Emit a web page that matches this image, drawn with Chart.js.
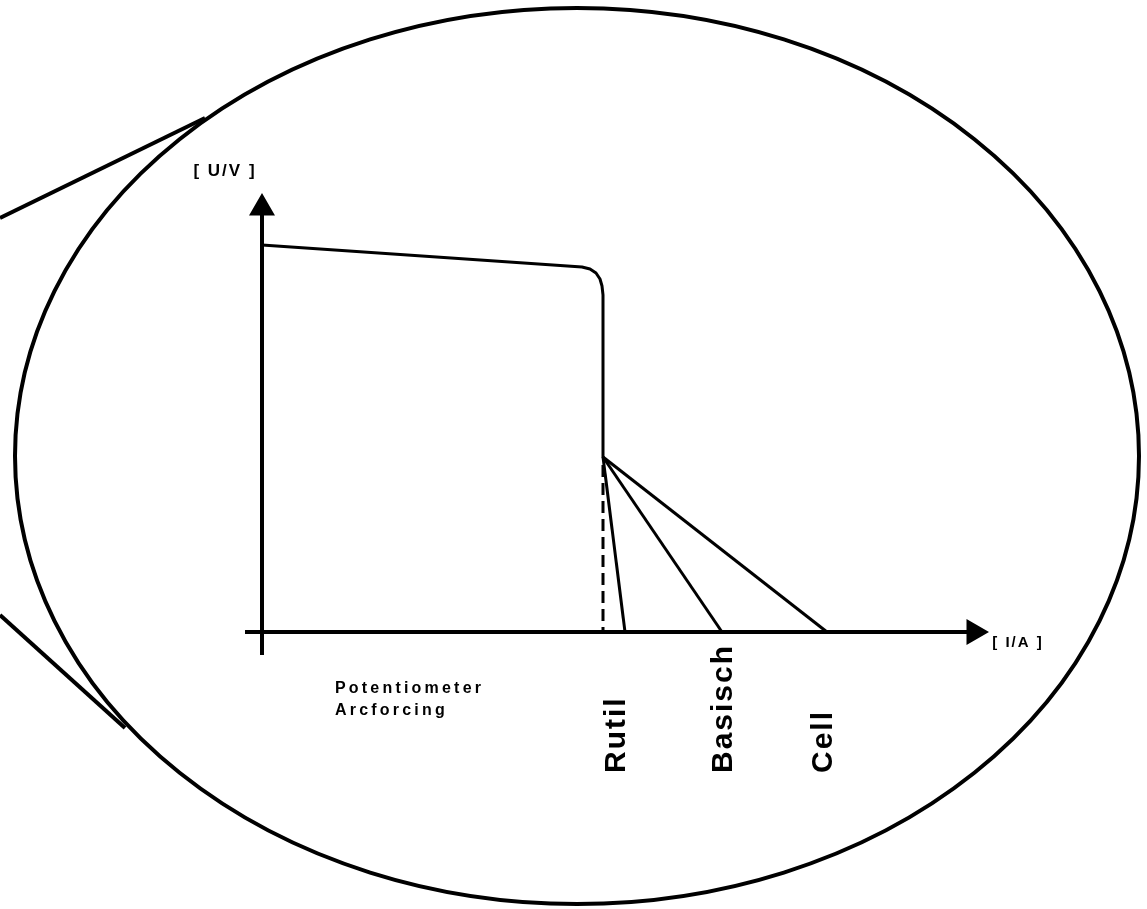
<!DOCTYPE html>
<html lang="de">
<head>
  <meta charset="UTF-8" />
  <title>Kennlinie Arcforcing</title>
  <script src="https://cdn.jsdelivr.net/npm/chart.js"></script>
  <style>
    html, body {
      margin: 0;
      padding: 0;
      background: #ffffff;
    }

    .wrap {
      width: 1147px;
      height: 909px;
    }
  </style>
</head>
<body>
  <div class="wrap">
    <canvas id="kennlinie"></canvas>
  </div>

  <script>
    // Kennlinie (I in x, U in y), Ursprung = Achsenkreuz
    const curveI = [0, 320, 328, 334, 338, 340, 341, 341];
    const curveU = [387, 365, 363, 359, 353, 346, 337, 175];

    // Arcforcing-Äste ab dem Knickpunkt
    const kneeI = 341;
    const kneeU = 175;
    const electrodes = ["Rutil", "Basisch", "Cell"];
    const electrodeEndI = [363, 460, 565];
    const electrodeLabelI = [363, 470, 570];

    // Achsen
    const axisI = [-17, 712];
    const axisU = [-23, 424];
    const axisLabels = ["[ U/V ]", "[ I/A ]"];
    const potiLines = ["Potentiometer", "Arcforcing"];

    // Lupe
    const lens = { cx: 315, cy: 176, rx: 562, ry: 448 };
    const lensUpperI = [-262, -57];
    const lensUpperU = [414, 514];
    const lensLowerI = [-262, -137];
    const lensLowerU = [17, -96];

    const toPts = (xs, ys) => xs.map((x, i) => ({ x, y: ys[i] }));

    const line = (data, extra) => Object.assign({
      data,
      showLine: true,
      borderColor: "#000",
      borderWidth: 3,
      pointRadius: 0,
      fill: false,
      tension: 0,
      clip: false
    }, extra || {});

    const datasets = [
      line(toPts(lensUpperI, lensUpperU), { borderWidth: 4 }),
      line(toPts(lensLowerI, lensLowerU), { borderWidth: 4 }),
      line(toPts(curveI, curveU), { borderWidth: 3, borderJoinStyle: "round" }),
      line([{ x: kneeI, y: kneeU - 8 }, { x: kneeI, y: 0 }], { borderDash: [12, 6], borderWidth: 3 })
    ];

    electrodeEndI.forEach(endI => {
      datasets.push(line([{ x: kneeI, y: kneeU }, { x: endI, y: 0 }], { borderWidth: 3 }));
    });

    // Achsen mit Pfeilspitzen
    datasets.push(line([{ x: 0, y: axisU[0] }, { x: 0, y: axisU[1] }], {
      borderWidth: 4,
      pointRadius: [0, 11],
      pointStyle: "triangle",
      pointRotation: 0,
      pointBackgroundColor: "#000",
      pointBorderColor: "#000"
    }));
    datasets.push(line([{ x: axisI[0], y: 0 }, { x: axisI[1], y: 0 }], {
      borderWidth: 4,
      pointRadius: [0, 11],
      pointStyle: "triangle",
      pointRotation: 90,
      pointBackgroundColor: "#000",
      pointBorderColor: "#000"
    }));

    const drawExtras = {
      id: "drawExtras",
      beforeDatasetsDraw(chart) {
        const { ctx, scales } = chart;
        const x = scales.x, y = scales.y;
        const cx = x.getPixelForValue(lens.cx);
        const cy = y.getPixelForValue(lens.cy);
        const rx = x.getPixelForValue(lens.cx + lens.rx) - cx;
        const ry = cy - y.getPixelForValue(lens.cy + lens.ry);
        ctx.save();
        ctx.beginPath();
        ctx.ellipse(cx, cy, rx, ry, 0, 0, Math.PI * 2);
        ctx.lineWidth = 4;
        ctx.strokeStyle = "#000";
        ctx.stroke();
        ctx.restore();
      },
      afterDatasetsDraw(chart) {
        const { ctx, scales } = chart;
        const px = v => scales.x.getPixelForValue(v);
        const py = v => scales.y.getPixelForValue(v);
        ctx.save();
        ctx.fillStyle = "#000";

        // Achsenbeschriftung
        ctx.font = "bold 17px 'Liberation Sans', Arial, sans-serif";
        ctx.letterSpacing = "2px";
        ctx.textAlign = "center";
        ctx.textBaseline = "middle";
        ctx.fillText(axisLabels[0], px(-37), py(461));
        ctx.font = "bold 15px 'Liberation Sans', Arial, sans-serif";
        ctx.fillText(axisLabels[1], px(756), py(-11));

        // Potentiometer Arcforcing
        ctx.font = "bold 16px 'Liberation Sans', Arial, sans-serif";
        ctx.letterSpacing = "3.2px";
        ctx.textAlign = "left";
        ctx.textBaseline = "alphabetic";
        ctx.fillText(potiLines[0], px(73), py(-61));
        ctx.fillText(potiLines[1], px(73), py(-83));

        // Elektrodentypen, senkrecht
        ctx.font = "bold 30px 'Liberation Sans', Arial, sans-serif";
        ctx.letterSpacing = "2px";
        electrodes.forEach((name, i) => {
          ctx.save();
          ctx.translate(px(electrodeLabelI[i]), py(-141));
          ctx.rotate(-Math.PI / 2);
          ctx.textAlign = "left";
          ctx.textBaseline = "alphabetic";
          ctx.fillText(name, 0, 0);
          ctx.restore();
        });
        ctx.restore();
      }
    };

    new Chart(document.getElementById("kennlinie"), {
      type: "scatter",
      data: { datasets },
      plugins: [drawExtras],
      options: {
        responsive: true,
        maintainAspectRatio: false,
        animation: false,
        layout: { padding: 0, autoPadding: false },
        plugins: {
          legend: { display: false },
          tooltip: { enabled: false }
        },
        scales: {
          x: { type: "linear", min: -262, max: 885, display: false },
          y: { type: "linear", min: -277, max: 632, display: false }
        }
      }
    });
  </script>
</body>
</html>
